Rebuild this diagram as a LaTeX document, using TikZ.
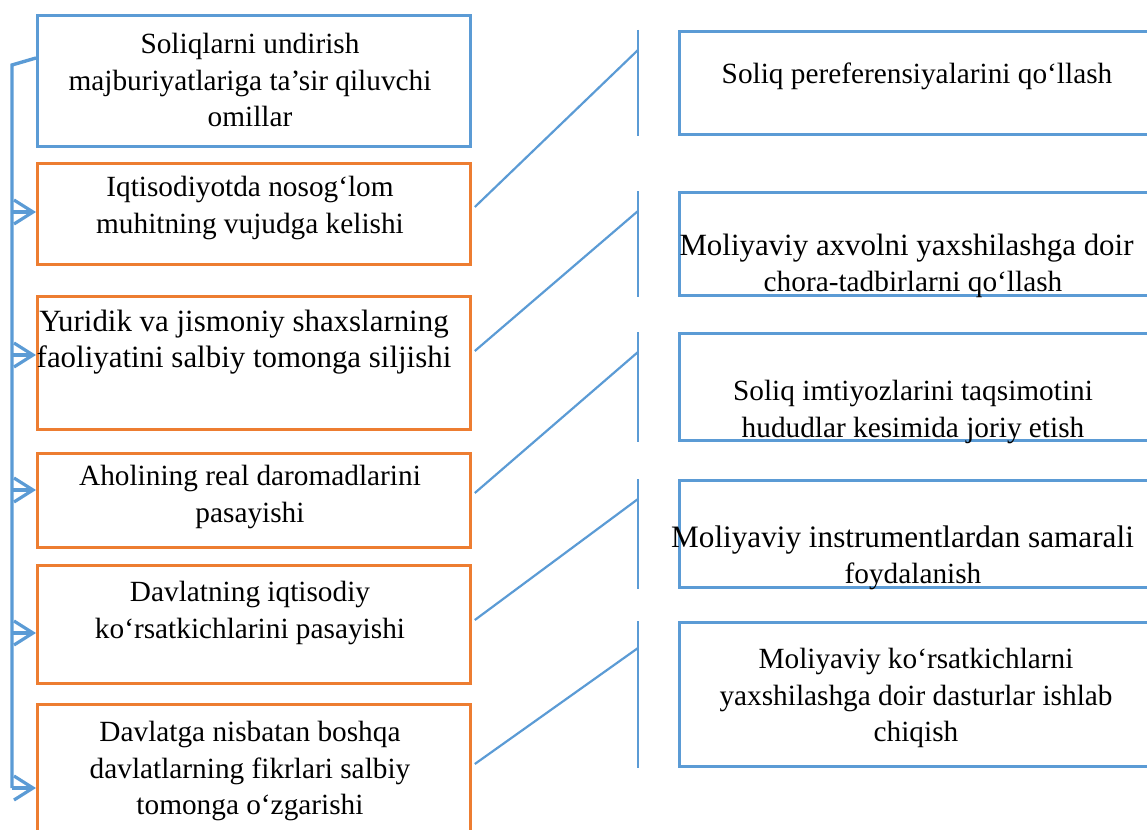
\documentclass[tikz,border=0pt]{standalone}
\usepackage{fontspec}
\setmainfont{Liberation Serif}
\usetikzlibrary{arrows.meta}
\definecolor{msblue}{HTML}{5B9BD5}
\definecolor{msorange}{HTML}{ED7D31}
\newcommand{\widerline}[2]{{\fontsize{#1}{36.5}\selectfont #2}}
\begin{document}
\begin{tikzpicture}[x=1pt,y=-1pt,
  box/.style={draw, line width=2.8pt, inner sep=0pt, anchor=north west, minimum width=#1},
  bluebox/.style={box=433pt, msblue},
  orangebox/.style={box=433pt, msorange},
  rightbox/.style={box=482pt, msblue},
  txt/.style={font=\fontsize{29.3}{36.5}\selectfont, align=center, inner sep=0pt, text=black},
  bracket/.style={draw=msblue, line width=3.4pt},
  arrowlink/.style={bracket, -{Straight Barb[length=19pt,width=24pt,line width=3.2pt]}},
  link/.style={draw=msblue, line width=2.2pt},
  bar/.style={draw=msblue, line width=2.8pt}]
\useasboundingbox (0,0) rectangle (1147,829);
\clip (0,0) rectangle (1147,829);

% left column of boxes
\node[bluebox, minimum height=131pt] (l1) at (36,14) {};
\node[orangebox, minimum height=101pt] (l2) at (36,162) {};
\node[orangebox, minimum height=133pt] (l3) at (36,295) {};
\node[orangebox, minimum height=94pt] (l4) at (36,452) {};
\node[orangebox, minimum height=118pt] (l5) at (36,564) {};
\node[orangebox, minimum height=140pt] (l6) at (36,703) {};

\node[txt] (t1) at (250,80) {Soliqlarni undirish\\majburiyatlariga ta’sir qiluvchi\\omillar};
\node[txt] (t2) at (250,208) {Iqtisodiyotda nosog‘lom\\muhitning vujudga kelishi};
\node[txt] (t3) at (244,342) {\widerline{30.9}{Yuridik va jismoniy shaxslarning}\\\widerline{30.9}{faoliyatini salbiy tomonga siljishi}};
\node[txt] (t4) at (250,497) {Aholining real daromadlarini\\pasayishi};
\node[txt] (t5) at (250,613) {Davlatning iqtisodiy\\ko‘rsatkichlarini pasayishi};
\node[txt] (t6) at (250,771) {Davlatga nisbatan boshqa\\davlatlarning fikrlari salbiy\\tomonga o‘zgarishi};

% right column of boxes
\node[rightbox, minimum height=103pt] (r1) at (678,30) {};
\node[rightbox, minimum height=103pt] (r2) at (678,191) {};
\node[rightbox, minimum height=107pt] (r3) at (678,332) {};
\node[rightbox, minimum height=107pt] (r4) at (678,479) {};
\node[rightbox, minimum height=144pt] (r5) at (678,621) {};

\node[txt] (u1) at (917,76) {Soliq pereferensiyalarini qo‘llash};
\node[txt] (u2) at (913,266) {\widerline{30.9}{Moliyaviy axvolni yaxshilashga doir}\hspace*{13pt}\\chora-tadbirlarni qo‘llash};
\node[txt] (u3) at (913,412) {Soliq imtiyozlarini taqsimotini\\hududlar kesimida joriy etish};
\node[txt] (u4) at (913,558) {\widerline{31.2}{Moliyaviy instrumentlardan samarali}\hspace*{21pt}\\foydalanish};
\node[txt] (u5) at (916,698) {Moliyaviy ko‘rsatkichlarni\\yaxshilashga doir dasturlar ishlab\\chiqish};

% vertical bars in front of the right boxes
\foreach \r in {r1,r2,r3,r4,r5}
  \draw[bar] ([xshift=-40pt]\r.north west) coordinate (\r top) -- ([xshift=-40pt]\r.south west);

% slanted links from the left boxes to the bars
\draw[link] ([xshift=3pt]l2.east |- 0,207) -- (r1top |- 0,50);
\draw[link] ([xshift=3pt]l3.east |- 0,351) -- (r2top |- 0,211);
\draw[link] ([xshift=3pt]l4.east |- 0,493) -- (r3top |- 0,352);
\draw[link] ([xshift=3pt]l5.east |- 0,620) -- (r4top |- 0,499);
\draw[link] ([xshift=3pt]l6.east |- 0,764) -- (r5top |- 0,648);

% bracket on the left with arrows into the boxes
\coordinate (btop) at (12,65);
\coordinate (bbot) at (12,788);
\draw[bracket] (l1.west |- 0,58) -- (btop) -- (bbot);
\draw[arrowlink] (btop |- 0,212) -- (l2.west |- 0,212);
\draw[arrowlink] (btop |- 0,355) -- (l3.west |- 0,355);
\draw[arrowlink] (btop |- 0,490) -- (l4.west |- 0,490);
\draw[arrowlink] (btop |- 0,633) -- (l5.west |- 0,633);
\draw[arrowlink] (bbot) -- (l6.west |- bbot);
\end{tikzpicture}
\end{document}
